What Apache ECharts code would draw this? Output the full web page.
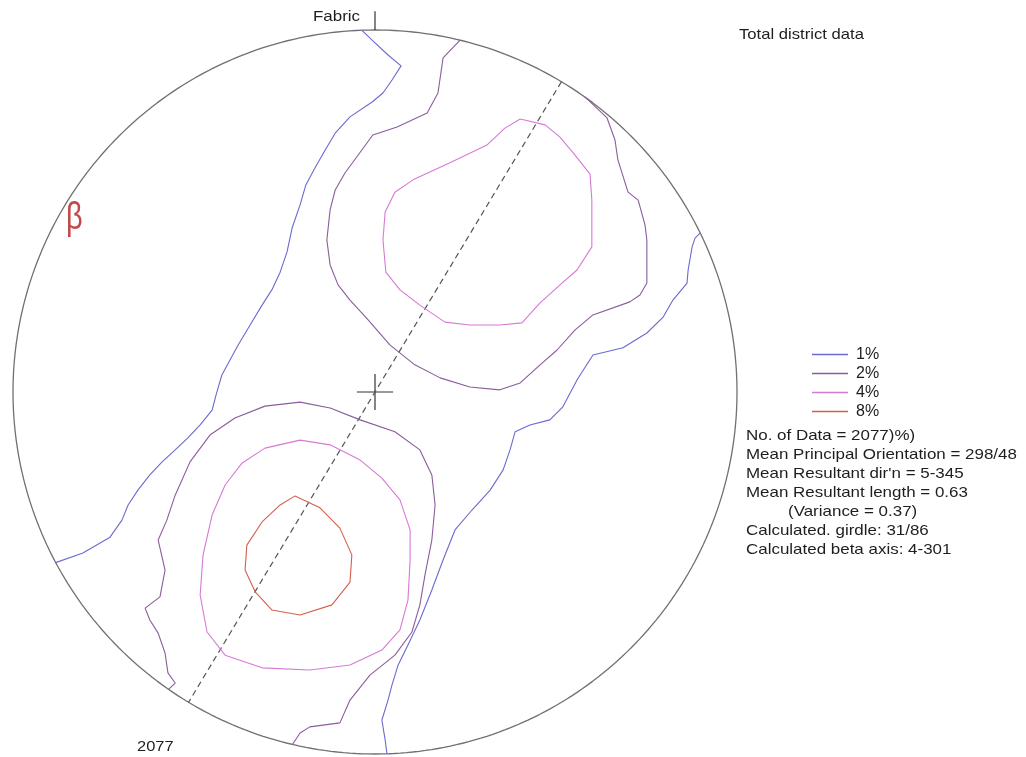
<!DOCTYPE html>
<html>
<head>
<meta charset="utf-8">
<title>Total district data</title>
<script src="https://cdn.jsdelivr.net/npm/echarts@6/dist/echarts.min.js"></script>
<style>
  html, body { margin: 0; padding: 0; background: #ffffff; }
  #chart { width: 1026px; height: 757px; }
</style>
</head>
<body>
<div id="chart"></div>
<script>
// Density contours on the equal-area net, in percent of the primitive radius (x = east, y = north).
const contour1West = [
  [-3.6, 99.9], [-0.8, 97.2], [3.6, 93.1], [7.2, 90.1], [4.7, 86.2], [2.2, 82.6], [-0.8, 80.1],
  [-6.9, 76.0], [-11.0, 71.5], [-13.8, 66.8], [-16.6, 61.9], [-19.1, 57.2], [-20.7, 51.7],
  [-22.9, 45.3], [-24.3, 38.7], [-26.2, 33.1], [-28.5, 28.2], [-31.2, 24.0], [-34.5, 18.5],
  [-37.8, 13.0], [-40.1, 8.8], [-42.3, 4.7], [-43.9, -0.8], [-45.0, -5.0], [-48.3, -9.1],
  [-51.7, -12.7], [-55.2, -16.0], [-58.8, -19.3], [-62.2, -22.9], [-65.5, -27.1], [-68.2, -31.2],
  [-69.9, -35.4], [-73.2, -40.1], [-80.7, -44.5], [-88.4, -47.2]
];
const contour1East = [
  [89.8, 43.9], [88.4, 42.5], [87.6, 40.1], [86.5, 33.7], [86.2, 30.1], [82.3, 25.4], [79.6, 20.7],
  [75.1, 16.3], [68.5, 12.2], [60.2, 10.2], [55.8, 3.3], [51.9, -4.1], [48.3, -7.7], [42.8, -9.1],
  [38.7, -11.0], [37.3, -16.0], [35.4, -21.5], [31.8, -27.1], [26.8, -32.6], [22.1, -38.1],
  [18.8, -46.4], [15.7, -54.7], [12.4, -63.0], [9.1, -69.9], [6.4, -75.4], [4.7, -80.9],
  [3.6, -85.1], [1.9, -90.6], [2.8, -96.1], [3.3, -99.9]
];
const contour2North = [
  [23.5, 97.2], [18.8, 92.3], [17.4, 82.6], [14.4, 77.1], [6.1, 73.2], [-0.6, 71.0], [-8.3, 60.5],
  [-11.0, 55.8], [-12.4, 50.3], [-13.3, 42.0], [-12.4, 35.1], [-10.2, 29.6], [-6.9, 25.4],
  [-1.9, 19.9], [4.1, 13.0], [11.0, 7.5], [18.0, 3.9], [26.2, 1.4], [34.5, 0.6], [40.1, 2.5],
  [45.6, 7.5], [50.3, 11.6], [55.2, 17.1], [60.2, 21.3], [70.4, 24.9], [73.2, 26.8], [75.1, 30.1],
  [75.1, 42.0], [74.6, 46.1], [72.7, 53.0], [69.9, 55.2], [67.1, 64.1], [66.3, 69.6], [64.1, 75.7],
  [58.0, 81.5]
];
const contour2South = [
  [-57.2, -82.3], [-55.2, -80.4], [-57.2, -77.6], [-58.0, -72.1], [-59.9, -66.6], [-62.2, -63.0],
  [-63.5, -59.7], [-59.4, -56.6], [-58.0, -49.2], [-59.9, -40.9], [-57.5, -35.4], [-55.2, -28.5],
  [-51.1, -19.3], [-45.6, -11.9], [-38.7, -7.2], [-30.4, -3.9], [-20.7, -2.8], [-12.4, -4.4],
  [-4.1, -7.7], [5.5, -11.0], [12.4, -16.0], [15.7, -22.9], [16.6, -31.2], [15.7, -40.9],
  [13.8, -50.6], [12.4, -58.8], [10.2, -66.3], [5.5, -72.7], [-1.4, -78.2], [-6.9, -85.1],
  [-9.7, -91.4], [-18.0, -92.5], [-20.7, -94.2], [-22.9, -97.5]
];
const contour4North = [
  [40.1, 75.4], [47.0, 73.8], [51.1, 70.4], [55.2, 65.5], [59.4, 60.2], [59.9, 53.0], [59.9, 40.1],
  [55.8, 33.7], [51.1, 29.6], [45.6, 24.6], [40.6, 19.1], [34.5, 18.5], [26.2, 18.5], [19.3, 19.3],
  [12.4, 24.0], [6.9, 28.2], [3.0, 33.1], [2.2, 42.0], [2.8, 49.7], [5.5, 55.2], [10.5, 58.6],
  [20.7, 63.3], [30.9, 68.2], [35.9, 72.9], [40.1, 75.4]
];
const contour4South = [
  [-20.7, -13.3], [-12.4, -14.6], [-4.1, -18.8], [1.9, -23.8], [6.9, -29.8], [9.7, -38.1],
  [9.7, -46.4], [9.1, -57.5], [6.9, -65.7], [1.9, -71.3], [-6.9, -75.4], [-18.0, -76.8],
  [-31.2, -76.2], [-41.4, -72.7], [-46.4, -66.3], [-48.3, -56.1], [-47.5, -45.0], [-45.0, -34.0],
  [-41.4, -25.7], [-36.7, -19.6], [-30.4, -15.5], [-20.7, -13.3]
];
const contour8 = [
  [-22.1, -28.7], [-15.2, -32.0], [-9.7, -37.6], [-6.4, -45.0], [-6.9, -52.5], [-11.9, -58.8],
  [-20.7, -61.6], [-28.5, -60.2], [-33.1, -55.2], [-35.9, -49.2], [-35.4, -42.3], [-31.2, -35.9],
  [-26.2, -31.2], [-22.1, -28.7]
];

// Contour levels and which traced lines belong to each
const levels = ['1%', '2%', '4%', '8%'];
const levelLines = {
  '1%': [contour1West, contour1East],
  '2%': [contour2North, contour2South],
  '4%': [contour4North, contour4South],
  '8%': [contour8]
};

// Fabric statistics
const girdleTrend = 31;
const sampleCount = '2077';
const statLines = [
  'No. of Data = 2077)%)',
  'Mean Principal Orientation = 298/48',
  "Mean Resultant dir'n = 5-345",
  'Mean Resultant length = 0.63',
  '(Variance = 0.37)',
  'Calculated. girdle: 31/86',
  'Calculated beta axis: 4-301'
];

const levelColors = { '1%': '#6a6ad0', '2%': '#8c5c9c', '4%': '#d67ad6', '8%': '#d2604e' };
const FONT = '"Liberation Sans", Arial, sans-serif';
const TEXT = '#1e1e1e';

// Primitive circle of the net
const primitive = [];
for (let a = 0; a <= 360; a += 1) {
  const r = a * Math.PI / 180;
  primitive.push([100 * Math.sin(r), 100 * Math.cos(r)]);
}
// Girdle trace as a diameter along its trend
const gt = girdleTrend * Math.PI / 180;
const girdle = [[100 * Math.sin(gt), 100 * Math.cos(gt)], [-100 * Math.sin(gt), -100 * Math.cos(gt)]];

const series = [];
const plain = (data, color, width, extra) => Object.assign({
  type: 'line', data: data, symbol: 'none', silent: true, clip: false,
  lineStyle: { color: color, width: width }, itemStyle: { color: color }
}, extra || {});

series.push(plain(primitive, '#707070', 1.3));
series.push(plain([[0, 100], [0, 105.2]], '#333333', 1.2));
series.push(plain([[-5, 0], [5, 0]], '#333333', 1.2));
series.push(plain([[0, -5], [0, 5]], '#333333', 1.2));
series.push(plain(girdle, '#555555', 1.2, { lineStyle: { color: '#555555', width: 1.2, type: [6, 4] } }));
levels.forEach(function (lv) {
  levelLines[lv].forEach(function (line) {
    series.push(plain(line, levelColors[lv], 1.1, { name: lv }));
  });
});

const graphics = [
  { type: 'text', x: 313, y: 17, scaleX: 1.13, style: { text: 'Fabric', font: '15px ' + FONT, fill: TEXT, verticalAlign: 'middle' } },
  { type: 'text', x: 739, y: 35, scaleX: 1.11, style: { text: 'Total district data', font: '15px ' + FONT, fill: TEXT, verticalAlign: 'middle' } },
  { type: 'text', x: 137, y: 747, scaleX: 1.1, style: { text: sampleCount, font: '15px ' + FONT, fill: TEXT, verticalAlign: 'middle' } },
  { type: 'text', x: 66, y: 218, scaleY: 1.35, style: { text: 'β', font: '29px ' + FONT, fill: '#c44848', verticalAlign: 'middle' } }
];
statLines.forEach(function (s, i) {
  graphics.push({
    type: 'text', x: s.charAt(0) === '(' ? 788 : 746, y: 436 + i * 19, scaleX: 1.13,
    style: { text: s, font: '15px ' + FONT, fill: TEXT, verticalAlign: 'middle' }
  });
});

const chart = echarts.init(document.getElementById('chart'), null, { renderer: 'canvas' });
chart.setOption({
  backgroundColor: '#ffffff',
  animation: false,
  grid: { left: 13, top: 30, width: 724, height: 724 },
  xAxis: { type: 'value', min: -100, max: 100, show: false },
  yAxis: { type: 'value', min: -100, max: 100, show: false },
  legend: {
    data: levels, orient: 'vertical', left: 807, top: 340, icon: 'rect',
    itemWidth: 36, itemHeight: 1.5, itemGap: 0, selectedMode: false,
    textStyle: { fontFamily: FONT, fontSize: 16, color: TEXT, lineHeight: 19, padding: [0, 0, 0, 3] }
  },
  graphic: graphics,
  series: series
});
</script>
</body>
</html>
